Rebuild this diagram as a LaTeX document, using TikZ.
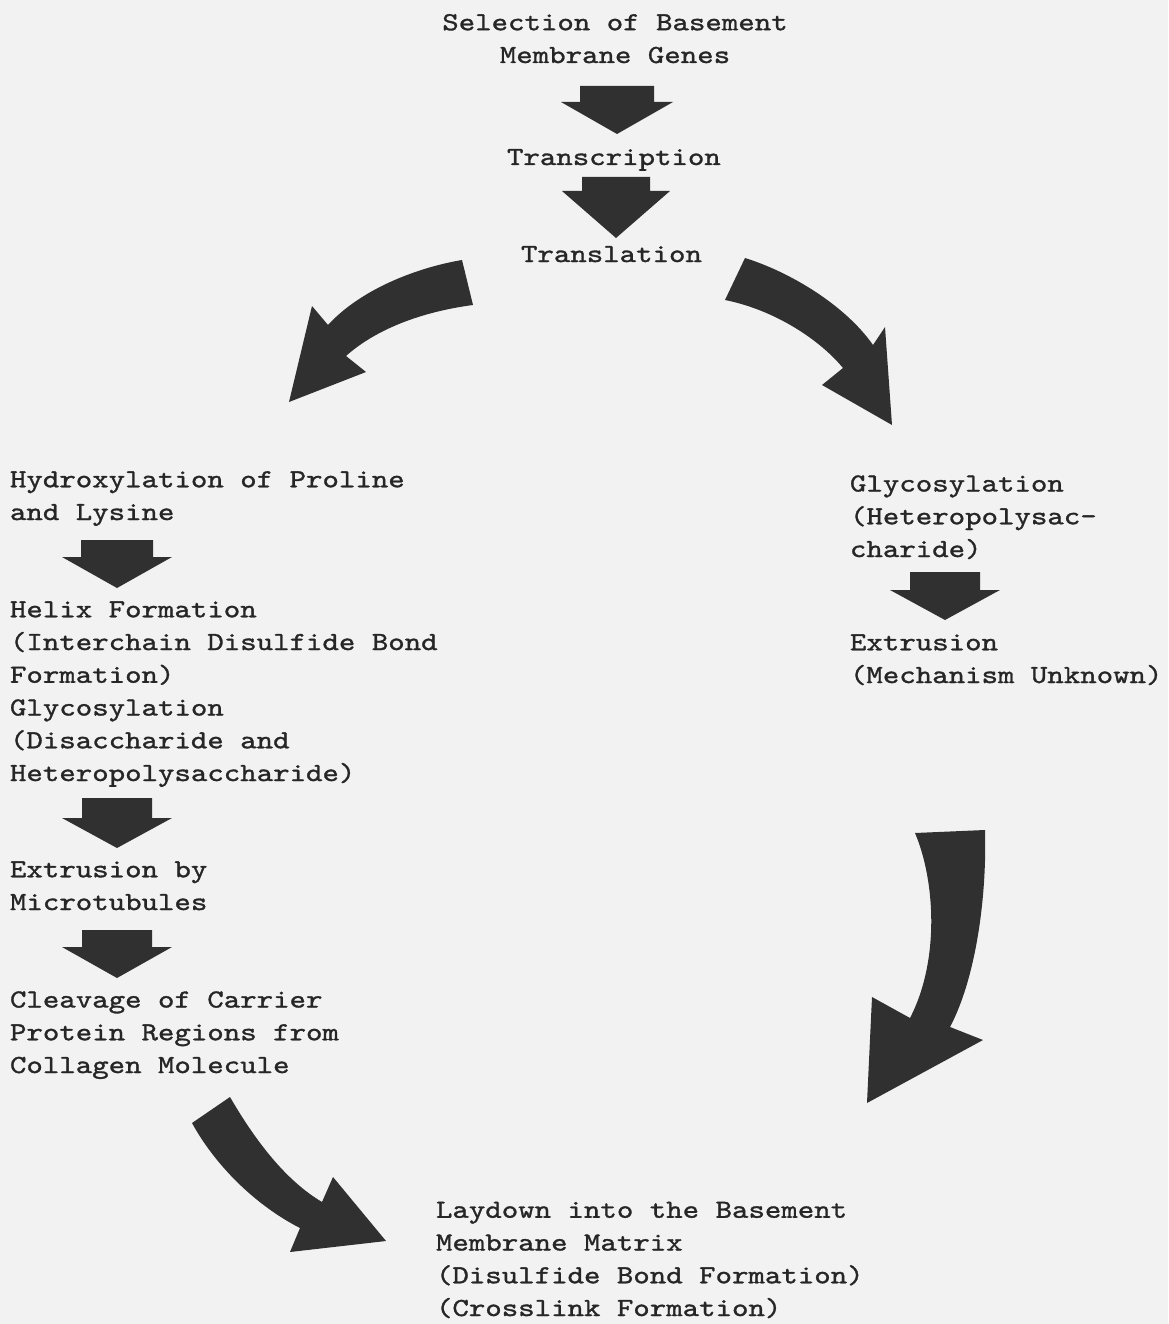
\documentclass[tikz,border=0pt]{standalone}
\usepackage{fontspec}
\newfontfamily\typewriter{lmmono10-regular.otf}[FakeStretch=1.205,FakeBold=1.2]
\definecolor{paper}{RGB}{242,242,242}
\definecolor{ink}{RGB}{38,38,38}
\definecolor{arrowfill}{RGB}{48,48,48}
\newcommand\sarrow[6]{\fill[blk] (#1-#5,#2) -- (#1+#5,#2) -- (#1+#5,#3) -- (#1+#6,#3) -- (#1,#4) -- (#1-#6,#3) -- (#1-#5,#3) -- cycle;}
\begin{document}
\begin{tikzpicture}[x=1pt,y=-1pt,
  txt/.style={font=\typewriter\fontsize{26}{32.75}\selectfont, inner sep=0pt, outer sep=0pt, anchor=base west, align=left, text=ink},
  blk/.style={fill=arrowfill, draw=none}]
\fill[paper] (0,0) rectangle (1168,1324);
\useasboundingbox (0,0) rectangle (1168,1324);
% text (multi-line nodes are anchored at the baseline of their last line)
\node[txt, align=center, anchor=base] (sel) at (615,63) {Selection of Basement\\Membrane Genes};
\node[txt] (transc) at (507,165) {Transcription};
\node[txt] (transl) at (521,262) {Translation};
\node[txt] (hydrox) at (10,520) {Hydroxylation of Proline\\and Lysine};
\node[txt] (helix) at (10,781) {Helix Formation\\(Interchain Disulfide Bond\\Formation)\\Glycosylation\\(Disaccharide and\\Heteropolysaccharide)};
\node[txt] (extrmt) at (10,910) {Extrusion by\\Microtubules};
\node[txt] (cleav) at (10,1073) {Cleavage of Carrier\\Protein Regions from\\Collagen Molecule};
\node[txt] (glyco) at (850,557) {Glycosylation\\(Heteropolysac-\\charide)};
\node[txt] (extru) at (850,683) {Extrusion\\(Mechanism Unknown)};
\node[txt] (laydown) at (436,1316) {Laydown into the Basement\\Membrane Matrix\\(Disulfide Bond Formation)\\(Crosslink Formation)};
% straight block arrows
\sarrow{617}{86}{102}{134}{37}{56}
\sarrow{616}{177}{191}{238}{34}{54}
\sarrow{117}{540}{557}{588}{36}{55}
\sarrow{117}{798}{818}{848}{35}{55}
\sarrow{117}{930}{947}{978}{35}{55}
\sarrow{945}{572}{590}{620}{35}{55}
% curved block arrows
\fill[blk] (462,260) .. controls (415,268) and (360,290) .. (328,325) -- (312,306) -- (289,402) -- (366,372) -- (346,356) .. controls (375,330) and (420,312) .. (473,305) -- cycle;
\fill[blk] (745,258) .. controls (790,272) and (845,305) .. (873,345) -- (885,327) -- (892,425) -- (822,385) -- (843,368) .. controls (820,340) and (775,310) .. (725,300) -- cycle;
\fill[blk] (915,833) .. controls (935,880) and (940,960) .. (910,1018) -- (872,997) -- (867,1103) -- (983,1040) -- (950,1027) .. controls (975,980) and (987,900) .. (985,830) -- cycle;
\fill[blk] (230,1097) .. controls (255,1140) and (285,1180) .. (322,1202) -- (333,1177) -- (386,1241) -- (290,1252) -- (300,1228) .. controls (255,1205) and (215,1165) .. (192,1123) -- cycle;
\end{tikzpicture}
\end{document}
